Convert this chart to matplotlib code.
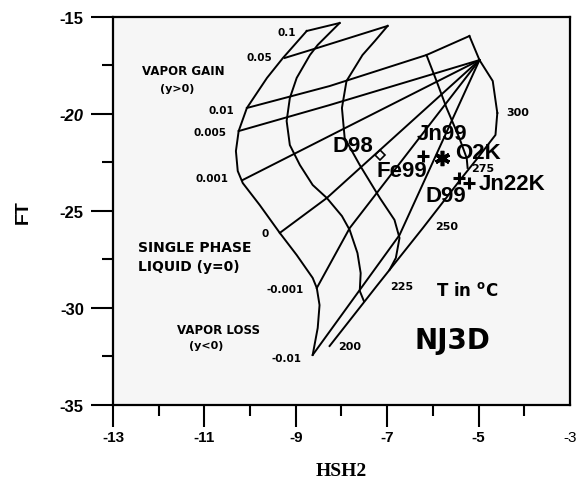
import matplotlib
matplotlib.use("Agg")
import matplotlib.pyplot as plt
from matplotlib.ticker import MultipleLocator

# isotherms (HSH2, FT)
iso200_x = [-8.76, -9.28, -9.63, -10.07, -10.25, -10.31, -10.27, -10.16, -9.79, -9.35, -8.98, -8.63, -8.54, -8.48, -8.52, -8.63]
iso200_y = [-15.72, -17.11, -18.14, -19.69, -20.88, -21.91, -22.94, -23.56, -24.69, -26.13, -27.27, -28.45, -28.97, -29.85, -31.03, -32.42]
iso225_x = [-8.04, -8.52, -8.69, -8.98, -9.13, -9.20, -9.13, -8.91, -8.63, -8.32, -7.99, -7.82, -7.65, -7.58, -7.60, -7.51]
iso225_y = [-15.31, -16.44, -16.96, -18.14, -19.18, -20.36, -21.60, -22.63, -23.66, -24.33, -25.26, -25.98, -27.17, -28.20, -29.12, -29.64]
iso250_x = [-6.99, -7.27, -7.54, -7.89, -7.99, -7.93, -7.60, -7.16, -6.84, -6.73, -6.81, -6.95]
iso250_y = [-15.46, -16.24, -16.96, -18.30, -19.69, -21.24, -22.63, -24.33, -25.46, -26.39, -27.42, -28.04]
iso275_x = [-6.14, -5.92, -5.70, -5.42, -5.26, -5.24]
iso275_y = [-16.96, -18.30, -19.69, -21.24, -22.27, -22.78]
iso300_x = [-5.20, -4.98, -4.69, -4.59]
iso300_y = [-15.98, -17.22, -18.30, -19.95]

# lines of constant vapour fraction y
y01_x, y01_y = [-8.76, -8.04], [-15.72, -15.31]
y005_x, y005_y = [-9.24, -8.52, -6.99], [-17.11, -16.59, -15.46]
y001_x, y001_y = [-10.07, -8.26, -6.14, -5.20], [-19.69, -18.56, -16.96, -15.98]
y0005_x, y0005_y = [-10.25, -8.26, -4.98], [-20.88, -19.54, -17.22]
y0001_x, y0001_y = [-10.16, -8.26, -4.98], [-23.40, -21.13, -17.22]
y0_x, y0_y = [-9.35, -8.32, -4.98], [-26.13, -24.33, -17.22]
ym0001_x, ym0001_y = [-8.54, -7.82, -4.98], [-28.97, -25.88, -17.22]
ym001_x, ym001_y = [-8.63, -6.73, -4.98], [-32.42, -26.24, -17.22]
tline_x = [-8.26, -7.23, -6.22, -5.37, -5.02, -4.63, -4.59]
tline_y = [-31.96, -28.87, -25.88, -23.30, -22.27, -21.08, -19.95]

# samples
sample_x = [-6.22, -5.79, -5.42, -5.20, -7.16]
sample_y = [-22.17, -22.27, -23.30, -23.56, -22.11]
sample_marker = ["+", (6, 2, 0), "+", "+", "D"]
sample_names = ["D98", "Fe99", "Jn99", "O2K", "D99", "Jn22K"]
name_x = [-7.75, -6.68, -5.79, -5.02, -5.72, -4.27]
name_y = [-21.60, -22.89, -20.98, -22.01, -24.18, -23.60]

y_labels = ["0.1", "0.05", "0.01", "0.005", "0.001", "0", "-0.001", "-0.01"]
y_label_x = [-9.20, -9.79, -10.62, -10.88, -10.84, -9.68, -9.24, -9.20]
y_label_y = [-15.77, -17.06, -19.79, -20.93, -23.30, -26.13, -29.02, -32.58]
t_labels = ["200", "225", "250", "275", "300"]
t_label_x = [-7.82, -6.68, -5.70, -4.91, -4.15]
t_label_y = [-31.96, -28.87, -25.77, -22.78, -19.90]

x_ticks = [-13, -11, -9, -7, -5, -3]
y_ticks = [-35, -30, -25, -20, -15]

fig = plt.figure(figsize=(5.8, 4.85), dpi=100)
ax = fig.add_axes([0.1948, 0.1629, 0.7879, 0.8])
ax.set_facecolor("#f6f6f6")
ax.set_xlim(-13, -3)
ax.set_ylim(-35, -15)
for s in ax.spines.values():
    s.set_linewidth(1.6)

lw = 1.4
curves = [
    (iso200_x, iso200_y), (iso225_x, iso225_y), (iso250_x, iso250_y),
    (iso275_x, iso275_y), (iso300_x, iso300_y),
    (y01_x, y01_y), (y005_x, y005_y), (y001_x, y001_y), (y0005_x, y0005_y),
    (y0001_x, y0001_y), (y0_x, y0_y), (ym0001_x, ym0001_y), (ym001_x, ym001_y),
    (tline_x, tline_y),
]
for xs, ys in curves:
    ax.plot(xs, ys, color="k", lw=lw, solid_joinstyle="round")

for x, y, m in zip(sample_x, sample_y, sample_marker):
    if m == "D":
        ax.plot(x, y, marker=m, ms=5, mfc="none", mec="k", mew=1.2)
    elif m == "+":
        ax.plot(x, y, marker=m, ms=9, color="k", mew=2.2)
    else:
        ax.plot(x, y, marker=m, ms=11, color="k", mew=2.6)

for t, x, y in zip(y_labels, y_label_x, y_label_y):
    ax.text(x, y, t, fontsize=7.5, fontweight="bold", ha="center", va="center")
for t, x, y in zip(t_labels, t_label_x, t_label_y):
    ax.text(x, y, t, fontsize=8, fontweight="bold", ha="center", va="center")

ax.text(-11.47, -17.78, "VAPOR GAIN", fontsize=8.5, fontweight="bold", ha="center", va="center")
ax.text(-11.60, -18.66, "(y>0)", fontsize=8, fontweight="bold", ha="center", va="center")
ax.text(-12.45, -26.86, "SINGLE PHASE", fontsize=10, fontweight="bold", ha="left", va="center")
ax.text(-12.45, -27.84, "LIQUID (y=0)", fontsize=10, fontweight="bold", ha="left", va="center")
ax.text(-10.70, -31.13, "VAPOR LOSS", fontsize=8.5, fontweight="bold", ha="center", va="center")
ax.text(-10.95, -31.91, "(y<0)", fontsize=8, fontweight="bold", ha="center", va="center")
ax.text(-5.26, -29.07, "T in $^{\\mathbf{o}}$C", fontsize=12, fontweight="bold", ha="center", va="center")
ax.text(-5.57, -31.65, "NJ3D", fontsize=20, fontweight="bold", ha="center", va="center")

for t, x, y in zip(sample_names, name_x, name_y):
    ax.text(x, y, t, fontsize=16, fontweight="bold", ha="center", va="center",
            family="Liberation Sans")

ax.set_xticks(x_ticks)
ax.set_yticks(y_ticks)
ax.xaxis.set_minor_locator(MultipleLocator(1))
ax.yaxis.set_minor_locator(MultipleLocator(2.5))
ax.tick_params(which="major", length=16, width=1.5, pad=2)
ax.tick_params(which="minor", length=8, width=1.5)
ax.tick_params(axis="y", which="major", pad=5)
ax.set_xticklabels([str(t) for t in x_ticks], fontsize=11, fontweight="bold", family="Liberation Sans")
ax.set_yticklabels([str(t) for t in y_ticks], fontsize=12, fontweight="bold", family="Liberation Sans")
ax.get_xticklabels()[-1].set_fontweight("normal")
ax.get_yticklabels()[3].set_style("italic")
ax.xaxis.get_major_ticks()[-1].tick1line.set_visible(False)
ax.xaxis.get_minor_ticks()[-1].tick1line.set_visible(False)

ax.set_xlabel("HSH2", fontsize=14, fontweight="bold", family="Liberation Serif", labelpad=13)
ax.set_ylabel("FT", fontsize=14, fontweight="bold", family="Liberation Sans", labelpad=20)

fig.savefig("out.png", dpi=100)
